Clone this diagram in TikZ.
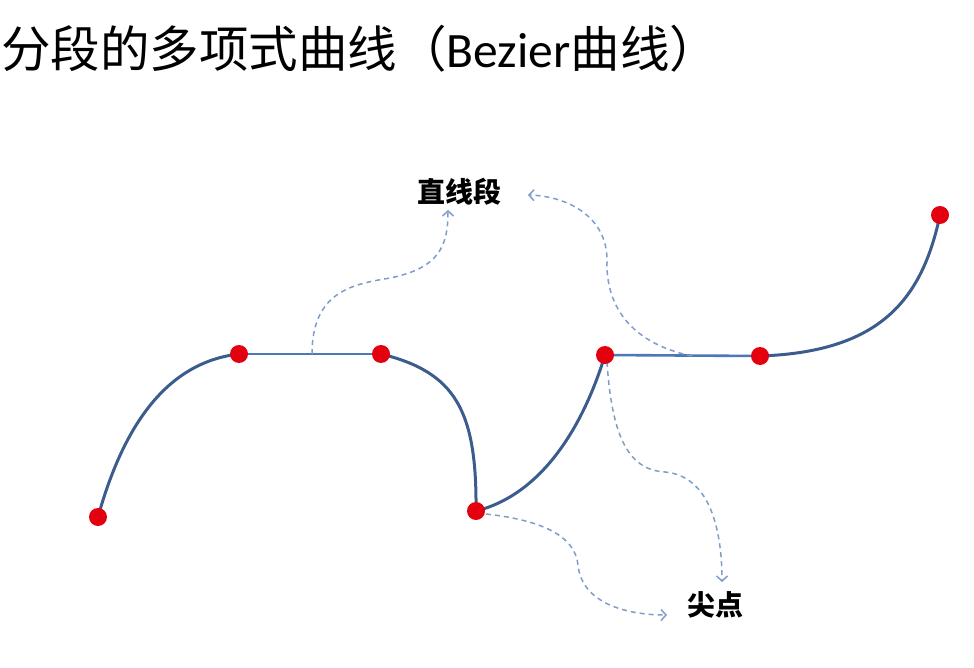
\documentclass[tikz,border=0pt]{standalone}
\usepackage{fontspec}
\setmainfont{Noto Sans CJK SC}
\newfontfamily\latin{Carlito}
\usetikzlibrary{arrows.meta}
\definecolor{dotred}{HTML}{E3000F}
\definecolor{curveblue}{HTML}{3B5C8C}
\definecolor{lineblue}{HTML}{4E78B5}
\definecolor{dashblue}{HTML}{7F9DC9}
\tikzset{
  dot/.style={circle,fill=dotred,inner sep=0pt,minimum size=18pt},
  curveline/.style={draw=curveblue,line width=3pt},
  straightline/.style={draw=lineblue,line width=2.6pt},
  dasharrow/.style={draw=dashblue,line width=1.5pt,dash pattern=on 5pt off 4pt,-{Straight Barb[length=5pt,width=11pt]}},
  lbl/.style={font=\fontsize{28}{32}\selectfont\bfseries,inner sep=0pt}
}
\begin{document}
\begin{tikzpicture}[x=1pt,y=-1pt]
\useasboundingbox (0,0) rectangle (974,668);
\node[anchor=west,inner sep=0pt,font=\fontsize{49.5}{54}\selectfont] (title) at (1,49) {分段的多项式曲线（{\latin Bezier}曲线）};
\coordinate (p1) at (98,517);
\coordinate (p2) at (239,354);
\coordinate (p3) at (381,354);
\coordinate (p4) at (476,511);
\coordinate (p5) at (605,355);
\coordinate (p6) at (760,356);
\coordinate (p7) at (940,215);
\coordinate (a1s) at (312,354);
\coordinate (a2s) at (692,356);
\node[lbl] (zhi) at (459,192) {直线段};
\node[lbl] (jian) at (715,605) {尖点};
% curves
\draw[curveline] (p1) .. controls (125,420) and (170,362) .. (p2);
\draw[straightline] (p2) -- (p3);
\draw[curveline] (p3) .. controls (455,372) and (477,410) .. (p4);
\draw[curveline] (p4) .. controls (540,495) and (582,430) .. (p5);
\draw[straightline] (p5) -- (p6);
\draw[curveline] (p6) .. controls (880,352) and (922,300) .. (p7);
% dashed arrows
\draw[dasharrow] (a1s) .. controls (312,290) and (355,284) .. (390,278) .. controls (440,268) and (448,245) .. (448,210);
\draw[dasharrow] (a2s) .. controls (625,342) and (606,300) .. (607,262) .. controls (608,215) and (565,196) .. (528,195);
\draw[dasharrow] (607,362) .. controls (612,440) and (630,470) .. (665,472) .. controls (710,476) and (722,530) .. (722,582);
\draw[dasharrow] (486,514) .. controls (540,520) and (575,535) .. (578,565) .. controls (582,605) and (630,615) .. (667,615);
% dots
\foreach \p in {p1,p2,p3,p4,p5,p6,p7} \node[dot] at (\p) {};
\end{tikzpicture}
\end{document}
